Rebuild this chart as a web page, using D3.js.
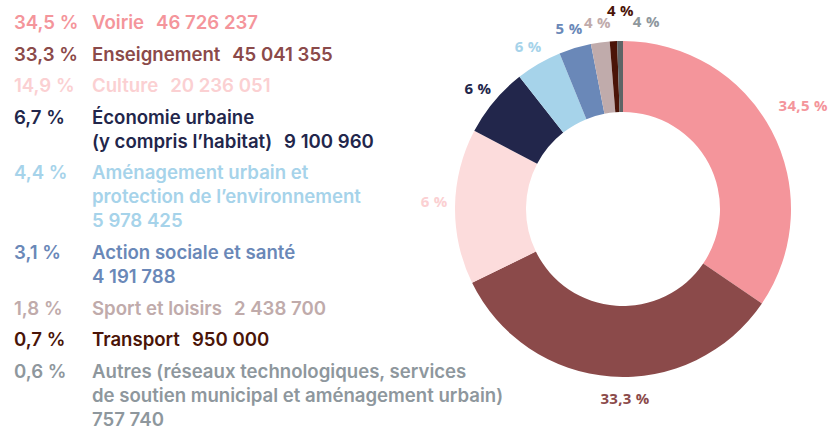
<!DOCTYPE html>
<html lang="fr">
<head>
<meta charset="utf-8">
<script src="https://cdn.jsdelivr.net/npm/d3@7/dist/d3.min.js"></script>
<style>
  html, body { margin: 0; padding: 0; background: #ffffff; }
  svg { display: block; }
  .legend text { font-family: Inter, "Noto Sans", sans-serif; font-weight: 600; font-size: 18.6px; }
  .slice-label { font-family: "Open Sans", "Noto Sans", sans-serif; font-weight: 700; font-size: 15px; letter-spacing: 0.3px; }
</style>
</head>
<body>
<svg id="chart" width="828" height="428"></svg>
<script>
// Budget par domaine (montants en $)
const categories = [
  "Voirie",
  "Enseignement",
  "Culture",
  "Économie urbaine\n(y compris l’habitat)",
  "Aménagement urbain et\nprotection de l’environnement",
  "Action sociale et santé",
  "Sport et loisirs",
  "Transport",
  "Autres (réseaux technologiques, services\nde soutien municipal et aménagement urbain)"
];
const amounts = [46726237, 45041355, 20236051, 9100960, 5978425, 4191788, 2438700, 950000, 757740];
// montant placé sur sa propre ligne sous le libellé
const amountOnNewLine = [false, false, false, false, true, true, false, false, true];
const sliceLabels = ["34,5 %", "33,3 %", "6 %", "6 %", "6 %", "5 %", "4 %", "4 %", "4 %"];
const sliceColors = ["#f4959b", "#8b4a4a", "#fcdcdc", "#22264b", "#a6d3ea", "#6a88b8", "#c0abab", "#4a1408", "#5e6466"];
const textColors  = ["#f4959b", "#8b4a4a", "#fbd0d2", "#22264b", "#a6d3ea", "#6a88b8", "#c0abab", "#4a1408", "#8e979d"];

const svg = d3.select("#chart");
const fr = d3.formatLocale({ decimal: ",", thousands: "\u00a0", grouping: [3], currency: ["", " $"] });
const fmtAmount = fr.format(",d");
const fmtPct = fr.format(".1f");
const total = d3.sum(amounts);

// ---- Légende ----
const legend = svg.append("g").attr("class", "legend");
const pctX = 14, labelX = 92, lineH = 24, entryGap = 31.6;
let y = 29;
categories.forEach((cat, i) => {
  const color = textColors[i];
  const lines = cat.split("\n");
  legend.append("text")
    .attr("x", pctX).attr("y", y)
    .attr("fill", color)
    .text(fmtPct(amounts[i] / total * 100) + "\u00a0%");
  lines.forEach((ln, j) => {
    const t = legend.append("text")
      .attr("x", labelX).attr("y", y + j * lineH)
      .attr("fill", color);
    t.append("tspan").text(ln);
    if (j === lines.length - 1 && !amountOnNewLine[i]) {
      t.append("tspan").attr("dx", 12).text(fmtAmount(amounts[i]));
    }
  });
  let last = y + (lines.length - 1) * lineH;
  if (amountOnNewLine[i]) {
    last += lineH;
    legend.append("text")
      .attr("x", labelX).attr("y", last)
      .attr("fill", color)
      .text(fmtAmount(amounts[i]));
  }
  y = last + entryGap;
});

// ---- Anneau ----
const cx = 623, cy = 209, outerR = 168, innerR = 97, labelR = 189;
const pie = d3.pie().sort(null).value(d => d)(amounts);
const arc = d3.arc().innerRadius(innerR).outerRadius(outerR);
const ring = svg.append("g").attr("transform", `translate(${cx},${cy})`);

ring.selectAll("path")
  .data(pie)
  .join("path")
  .attr("d", arc)
  .attr("fill", (d, i) => sliceColors[i]);

// Ajustements (rayon, décalage angulaire) pour dégager les étiquettes
const labelTweaks = {
  0: { r: 208, shift: -0.036 },
  1: { shift: -0.082 },
  2: { shift: 0.03 },
  7: { r: 199, shift: 0.044 },
  8: { shift: 0.141 }
};

ring.selectAll("text")
  .data(pie)
  .join("text")
  .attr("class", "slice-label")
  .each(function (d, i) {
    const tw = labelTweaks[i] || {};
    const a = (d.startAngle + d.endAngle) / 2 + (tw.shift || 0);
    const r = tw.r || labelR;
    d3.select(this)
      .attr("x", r * Math.sin(a))
      .attr("y", -r * Math.cos(a))
      .attr("text-anchor", "middle")
      .attr("dominant-baseline", "central");
  })
  .attr("fill", (d, i) => textColors[i])
  .text((d, i) => sliceLabels[i]);
</script>
</body>
</html>
